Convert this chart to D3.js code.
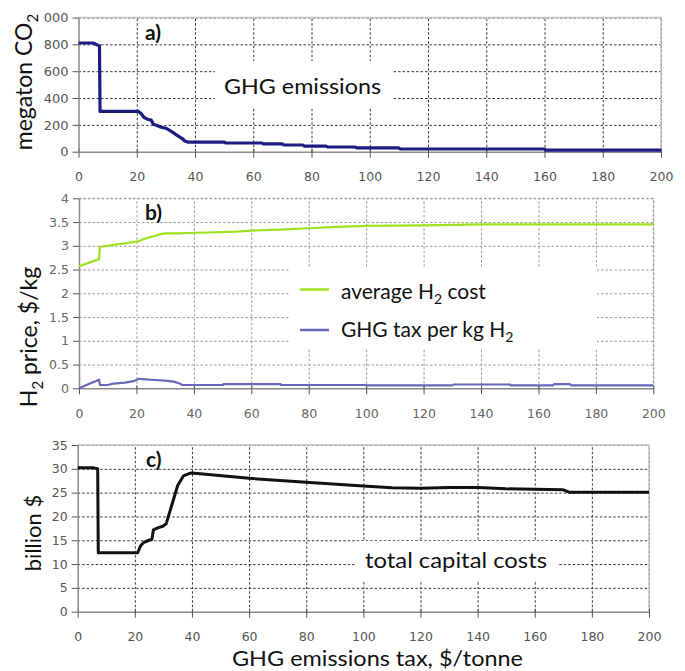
<!DOCTYPE html>
<html><head><meta charset="utf-8">
<script src="https://cdn.jsdelivr.net/npm/d3@7"></script>
<style>
body{margin:0;background:#fff;}
svg{display:block;}
.title{font-family:Lato,"Open Sans",sans-serif;fill:#111;}
</style></head>
<body><svg id="c" width="685" height="671"></svg>
<script>
// ---------- data ----------
const xTicks = [0,20,40,60,80,100,120,140,160,180,200];
const xTickLabels = ["0","20","40","60","80","100","120","140","160","180","200"];

// a) GHG emissions (megaton CO2) vs tax ($/tonne)
const ghgTax = [0,5,6.5,7.2,7.4,20.5,21.5,22.5,24,25,25.7,27,28,30,32,34,35.5,36.5,37.5,50,50.5,63,63.5,70,70.5,77,77.5,85,85.5,95,95.5,110,110.5,160,160.5,200];
const ghgEmis = [810,810,795,790,300,300,285,255,240,235,205,195,185,175,150,120,100,80,72,72,65,65,58,58,50,50,42,42,35,35,28,28,20,20,11,11];
const yTicksA = [0,200,400,600,800,1000];
const yTickLabelsA = ["0","200","400","600","800","000"];

// b) H2 price ($/kg)
const costTax = [0,7,7.3,10,13,16,19,21,22,24,26,28,30,35,38,45,55,60,70,80,90,100,120,140,200];
const avgCost = [2.57,2.72,2.98,3.0,3.03,3.05,3.08,3.1,3.13,3.17,3.2,3.24,3.26,3.26,3.27,3.28,3.3,3.32,3.34,3.37,3.4,3.42,3.43,3.45,3.45];
const taxTax = [0,3,7,7.3,10,12,16,19,21,25,30,33,35,36,50,50.5,70,70.5,100,100.5,130,130.5,150,150.5,165,165.5,171,171.5,200];
const taxPerKg = [0,0.08,0.18,0.07,0.07,0.1,0.12,0.15,0.2,0.18,0.16,0.14,0.1,0.07,0.07,0.09,0.09,0.07,0.07,0.06,0.06,0.08,0.08,0.06,0.06,0.09,0.09,0.06,0.06];
const yTicksB = [0,0.5,1,1.5,2,2.5,3,3.5,4];
const yTickLabelsB = ["0","0.5","1","1.5","2","2.5","3","3.5","4"];

// c) total capital costs (billion $)
const capTax = [0,5.5,7,7.2,21,22,23,25,26,26.5,28,30,31,33,35,37,39,40,60,80,100,110,120,130,140,150,160,170,172,200];
const capCost = [30.2,30.2,30,12.4,12.4,13.8,14.5,15,15.2,17.2,17.6,18,18.5,22.5,26.5,28.5,29,29.1,28,27.2,26.4,26,25.9,26.1,26.1,25.8,25.7,25.6,25.1,25.1];
const yTicksC = [0,5,10,15,20,25,30,35];
const yTickLabelsC = ["0","5","10","15","20","25","30","35"];

// ---------- drawing ----------
const svg = d3.select("#c");

function panel(o){
  const x = d3.scaleLinear().domain([0,200]).range([o.l,o.r]);
  const y = d3.scaleLinear().domain(o.yd).range([o.b,o.t]);
  const g = svg.append("g");
  // grid
  g.append("g").attr("transform",`translate(0,${o.b})`)
    .call(d3.axisBottom(x).tickValues(xTicks.slice(1)).tickSize(-(o.b-o.t)).tickFormat(""))
    .call(s=>s.select(".domain").remove())
    .call(s=>s.selectAll("line").attr("stroke",o.gridColor).attr("stroke-dasharray",o.dash));
  g.append("g").attr("transform",`translate(${o.l},0)`)
    .call(d3.axisLeft(y).tickValues(o.yt.slice(1)).tickSize(-(o.r-o.l)).tickFormat(""))
    .call(s=>s.select(".domain").remove())
    .call(s=>s.selectAll("line").attr("stroke",o.gridColor).attr("stroke-dasharray",o.dash));
  if(o.border){
    g.append("path").attr("d",`M${o.l},${o.t}H${o.r}V${o.b}`).attr("fill","none").attr("stroke","#c4c4c4").attr("stroke-width",1.5);
  }
  // axes
  const ax = g.append("g").attr("transform",`translate(0,${o.b})`)
    .call(d3.axisBottom(x).tickValues(xTicks).tickFormat((d,i)=>xTickLabels[i]).tickSize(6).tickPadding(o.xpad).tickSizeOuter(0));
  ax.select(".domain").attr("stroke","#8a8a8a").attr("stroke-width",1.5);
  ax.selectAll(".tick line").attr("stroke","#555").attr("y1",-3);
  ax.selectAll("text").attr("font-family","DejaVu Sans, Verdana, sans-serif").attr("font-size",12.5).attr("fill",o.tickColor);
  const ay = g.append("g").attr("transform",`translate(${o.l},0)`)
    .call(d3.axisLeft(y).tickValues(o.yt).tickFormat((d,i)=>o.ytl[i]).tickSize(6).tickPadding(4).tickSizeOuter(0));
  ay.select(".domain").attr("stroke","#8a8a8a").attr("stroke-width",1.5);
  ay.selectAll(".tick line").attr("stroke","#555");
  ay.selectAll("text").attr("font-family","DejaVu Sans, Verdana, sans-serif").attr("font-size",o.yfs||12.5).attr("fill",o.tickColor);
  return {x,y,g};
}

function series(p, xs, ys, color, w){
  const line = d3.line().x((d,i)=>p.x(xs[i])).y((d,i)=>p.y(ys[i]));
  p.g.append("path").attr("d",line(ys)).attr("fill","none").attr("stroke",color)
    .attr("stroke-width",w).attr("stroke-linejoin","round");
}

// Panel a
const pa = panel({l:78.5,r:661,t:17.5,b:151.7,yd:[0,1000],yt:yTicksA,ytl:yTickLabelsA,
  gridColor:"#3a3a3a",dash:"2.5,2",border:true,xpad:14,tickColor:"#555",yfs:13});
pa.g.append("rect").attr("x",215).attr("y",61).attr("width",178).attr("height",46).attr("fill","#fff");
series(pa, ghgTax, ghgEmis, "#1c1c82", 3.2);
pa.g.append("text").attr("class","title").attr("x",145).attr("y",40).attr("font-size",21).attr("font-weight","bold").text("a)");
pa.g.append("text").attr("class","title").attr("x",224).attr("y",93.5).attr("font-size",21).attr("textLength",157).attr("lengthAdjust","spacingAndGlyphs").text("GHG emissions");

// Panel b
const pb = panel({l:79,r:653.3,t:198.3,b:388.3,yd:[0,4],yt:yTicksB,ytl:yTickLabelsB,
  gridColor:"#9a9a9a",dash:"2.5,2",border:false,xpad:15,tickColor:"#666"});
// top/right dotted lines at 4 and 200
pb.g.append("path").attr("d",`M${pb.x(0)},${pb.y(4)}H${pb.x(200)}V${pb.y(0)}`).attr("fill","none").attr("stroke","#9a9a9a").attr("stroke-dasharray","2.5,2");
pb.g.append("rect").attr("x",290).attr("y",267).attr("width",307).attr("height",82).attr("fill","#fff");
series(pb, costTax, avgCost, "#9ee21e", 2.2);
series(pb, taxTax, taxPerKg, "#6767b8", 2.2);
pb.g.append("text").attr("class","title").attr("x",145).attr("y",220).attr("font-size",21).attr("font-weight","bold").text("b)");
pb.g.append("line").attr("x1",300).attr("x2",329).attr("y1",289.5).attr("y2",289.5).attr("stroke","#9ee21e").attr("stroke-width",2.5);
pb.g.append("line").attr("x1",300).attr("x2",329).attr("y1",330).attr("y2",330).attr("stroke","#6767b8").attr("stroke-width",2.5);
const l1 = pb.g.append("text").attr("class","title").attr("x",341).attr("y",298.5).attr("font-size",21);
l1.append("tspan").text("average H");
l1.append("tspan").attr("font-size",14).attr("dy",5).text("2");
l1.append("tspan").attr("dy",-5).text(" cost");
const l2 = pb.g.append("text").attr("class","title").attr("x",341).attr("y",337).attr("font-size",21);
l2.append("tspan").text("GHG tax per kg H");
l2.append("tspan").attr("font-size",14).attr("dy",5).text("2");

// Panel c
const pc = panel({l:77.7,r:649,t:445,b:611.7,yd:[0,35],yt:yTicksC,ytl:yTickLabelsC,
  gridColor:"#3a3a3a",dash:"2.5,2",border:true,xpad:14,tickColor:"#555"});
pc.g.append("rect").attr("x",356).attr("y",541).attr("width",201).attr("height",39).attr("fill","#fff");
series(pc, capTax, capCost, "#111", 3);
pc.g.append("text").attr("class","title").attr("x",146).attr("y",467).attr("font-size",21).attr("font-weight","bold").text("c)");
pc.g.append("text").attr("class","title").attr("x",365).attr("y",568.3).attr("font-size",22).attr("textLength",182).attr("lengthAdjust","spacingAndGlyphs").text("total capital costs");

// Axis titles
const ta = svg.append("text").attr("class","title").attr("font-size",23).attr("text-anchor","middle")
  .attr("transform","translate(31.5,82) rotate(-90)");
ta.append("tspan").text("megaton CO");
ta.append("tspan").attr("font-size",15).attr("dy",6).text("2");

const tb = svg.append("text").attr("class","title").attr("font-size",23).attr("text-anchor","middle")
  .attr("transform","translate(36.5,337) rotate(-90)");
tb.append("tspan").text("H");
tb.append("tspan").attr("font-size",15).attr("dy",6).text("2");
tb.append("tspan").attr("dy",-6).text(" price, $/kg");

svg.append("text").attr("class","title").attr("font-size",22).attr("text-anchor","middle")
  .attr("transform","translate(41,533) rotate(-90)").text("billion $");

svg.append("text").attr("class","title").attr("font-size",22).attr("x",232).attr("y",665.5)
  .attr("textLength",291).attr("lengthAdjust","spacingAndGlyphs").text("GHG emissions tax, $/tonne");
</script></body></html>
